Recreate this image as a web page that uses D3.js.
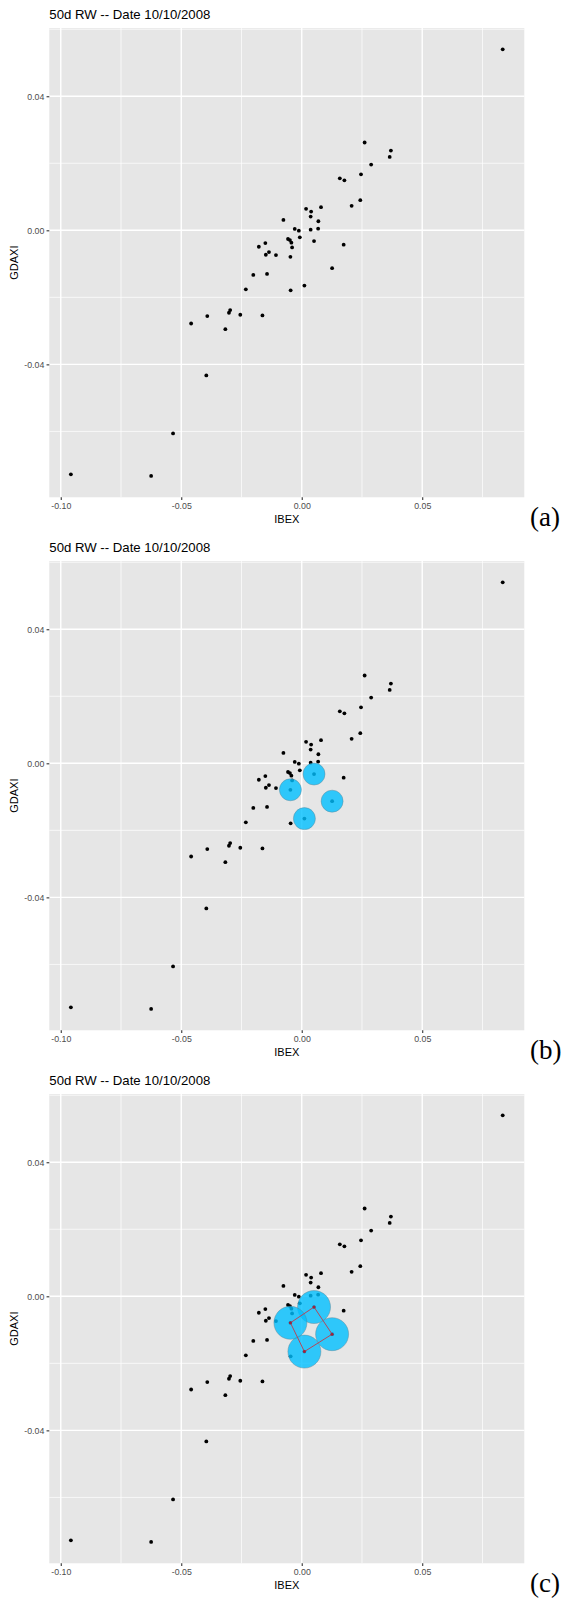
<!DOCTYPE html>
<html>
<head>
<meta charset="utf-8">
<script src="https://cdn.jsdelivr.net/npm/d3@7"></script>
<style>
  html, body { margin: 0; padding: 0; background: #fff; }
  svg { display: block; }
</style>
</head>
<body>
<svg id="fig" width="566" height="1604"></svg>
<script>
// 50-day rolling window of daily returns ending 10/10/2008
const ibex = [0.0261, 0.0370, 0.0365, 0.0288, 0.0246, 0.0158, 0.0177, 0.0243, 0.0207, 0.0018,
              0.0039, 0.0080, 0.0037, 0.0069, -0.0076, -0.0029, -0.0012, 0.0037, 0.0068, -0.0008,
              -0.0057, -0.0049, -0.0043, 0.0051, -0.0151, -0.0178, -0.0040, 0.0174, -0.0136, -0.0149,
              -0.0107, -0.0047, 0.0126, -0.0201, -0.0144, -0.0232, -0.0046, 0.0011, -0.0459, -0.0392,
              -0.0297, -0.0302, -0.0317, -0.0255, -0.0163, -0.0396, -0.0534, -0.0958, -0.0625, 0.0834];
const gdaxi = [0.0262, 0.0238, 0.0219, 0.0196, 0.0167, 0.0155, 0.0149, 0.0090, 0.0073, 0.0064,
               0.0056, 0.0069, 0.0041, 0.0027, 0.0031, 0.0004, -0.0001, 0.0002, 0.0005, -0.0021,
               -0.0026, -0.0029, -0.0037, -0.0032, -0.0038, -0.0049, -0.0051, -0.0043, -0.0065, -0.0073,
               -0.0074, -0.0079, -0.0113, -0.0133, -0.0130, -0.0176, -0.0179, -0.0165, -0.0278, -0.0256,
               -0.0238, -0.0246, -0.0295, -0.0252, -0.0254, -0.0433, -0.0606, -0.0728, -0.0733, 0.0540];

// four neighbouring observations, listed in cycle order
const ballCycle = [23, 32, 37, 31];

const xTicks = [-0.10, -0.05, 0.00, 0.05];
const yTicks = [-0.04, 0.00, 0.04];
const xMinor = [-0.075, -0.025, 0.025, 0.075];
const yMinor = [-0.06, -0.02, 0.02, 0.06];

const titleText = "50d RW -- Date 10/10/2008";
const xTitle = "IBEX";
const yTitle = "GDAXI";
const panelTags = ["(a)", "(b)", "(c)"];

const points = ibex.map((x, i) => ({ x, y: gdaxi[i], i }));

// ggplot-style 5% expansion of the data range
function expand(vals) {
  const [lo, hi] = d3.extent(vals);
  const pad = (hi - lo) * 0.05;
  return [lo - pad, hi + pad];
}

const fmt = v => d3.format(".2f")(v).replace("\u2212", "-");

const svg = d3.select("#fig");
const blockH = 533;
const panel = { left: 49.3, right: 524.3, top: 28, bottom: 497.3 };

const x = d3.scaleLinear().domain(expand(ibex)).range([panel.left, panel.right]);
const y = d3.scaleLinear().domain(expand(gdaxi)).range([panel.bottom, panel.top]);

const SANS = "'Liberation Sans', Arial, Helvetica, sans-serif";

function drawPanel(k, ballRadius, showCycle) {
  const g = svg.append("g").attr("transform", `translate(0,${k * blockH})`);

  // title
  g.append("text")
    .attr("x", panel.left).attr("y", 18.5)
    .attr("font-family", SANS).attr("font-size", 13.2).attr("fill", "#000")
    .text(titleText);

  // panel background
  g.append("rect")
    .attr("x", panel.left).attr("y", panel.top)
    .attr("width", panel.right - panel.left).attr("height", panel.bottom - panel.top)
    .attr("fill", "#E6E6E6");

  // grid: minor then major
  const grid = g.append("g");
  grid.selectAll("line.xmin").data(xMinor).join("line")
    .attr("x1", d => x(d)).attr("x2", d => x(d))
    .attr("y1", panel.top).attr("y2", panel.bottom)
    .attr("stroke", "#fff").attr("stroke-width", 0.7);
  grid.selectAll("line.ymin").data(yMinor).join("line")
    .attr("y1", d => y(d)).attr("y2", d => y(d))
    .attr("x1", panel.left).attr("x2", panel.right)
    .attr("stroke", "#fff").attr("stroke-width", 0.7);
  grid.selectAll("line.xmaj").data(xTicks).join("line")
    .attr("x1", d => x(d)).attr("x2", d => x(d))
    .attr("y1", panel.top).attr("y2", panel.bottom)
    .attr("stroke", "#fff").attr("stroke-width", 1.4);
  grid.selectAll("line.ymaj").data(yTicks).join("line")
    .attr("y1", d => y(d)).attr("y2", d => y(d))
    .attr("x1", panel.left).attr("x2", panel.right)
    .attr("stroke", "#fff").attr("stroke-width", 1.4);

  // axes
  const xAxis = g.append("g").attr("transform", `translate(0,${panel.bottom})`)
    .call(d3.axisBottom(x).tickValues(xTicks).tickFormat(fmt).tickSizeOuter(0).tickSize(2.75).tickPadding(2.4));
  const yAxis = g.append("g").attr("transform", `translate(${panel.left},0)`)
    .call(d3.axisLeft(y).tickValues(yTicks).tickFormat(fmt).tickSizeOuter(0).tickSize(2.75).tickPadding(2.2));
  [xAxis, yAxis].forEach(a => {
    a.select(".domain").remove();
    a.selectAll(".tick line").attr("stroke", "#333").attr("stroke-width", 1.1);
    a.selectAll(".tick text").attr("fill", "#4D4D4D").attr("font-family", SANS).attr("font-size", 8.8);
  });
  yAxis.selectAll(".tick text").attr("dy", "0.35em");

  // axis titles
  g.append("text")
    .attr("x", (panel.left + panel.right) / 2).attr("y", panel.bottom + 26)
    .attr("text-anchor", "middle")
    .attr("font-family", SANS).attr("font-size", 11).attr("fill", "#000")
    .text(xTitle);
  g.append("text")
    .attr("transform", `translate(18,${(panel.top + panel.bottom) / 2}) rotate(-90)`)
    .attr("text-anchor", "middle")
    .attr("font-family", SANS).attr("font-size", 11).attr("fill", "#000")
    .text(yTitle);

  // observations
  g.append("g").selectAll("circle").data(points).join("circle")
    .attr("cx", d => x(d.x)).attr("cy", d => y(d.y))
    .attr("r", 1.9).attr("fill", "#000");

  // balls around the selected observations
  if (ballRadius) {
    const sel = ballCycle.map(i => points[i]);
    g.append("g").selectAll("circle").data(sel).join("circle")
      .attr("cx", d => x(d.x)).attr("cy", d => y(d.y))
      .attr("r", ballRadius)
      .attr("fill", "#00BFFF").attr("fill-opacity", 0.8)
      .attr("stroke", "#5d7f8f").attr("stroke-width", 0.6).attr("stroke-opacity", 0.7);

    if (showCycle) {
      const line = d3.line().x(d => x(d.x)).y(d => y(d.y)).curve(d3.curveLinearClosed);
      g.append("path").attr("d", line(sel))
        .attr("fill", "none").attr("stroke", "#B5475A").attr("stroke-width", 1);
      g.append("g").selectAll("circle").data(sel).join("circle")
        .attr("cx", d => x(d.x)).attr("cy", d => y(d.y))
        .attr("r", 1.5).attr("fill", "#A3223A");
    }
  }

  // sub-figure tag
  g.append("text")
    .attr("x", 530).attr("y", panel.bottom + 29)
    .attr("font-family", "'Liberation Serif', 'DejaVu Serif', serif")
    .attr("font-size", 27).attr("fill", "#000")
    .text(panelTags[k]);
}

drawPanel(0, 0, false);
drawPanel(1, 11, false);
drawPanel(2, 16.5, true);
</script>
</body>
</html>
